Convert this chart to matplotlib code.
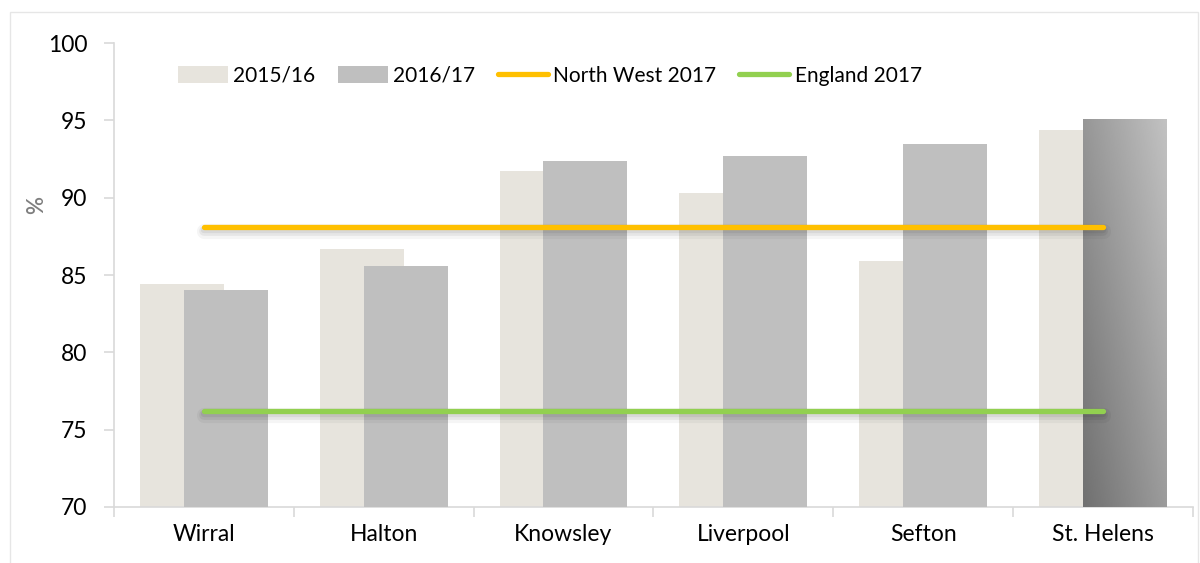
import numpy as np
import matplotlib
matplotlib.use("Agg")
import matplotlib.pyplot as plt
import matplotlib.patheffects as pe
from matplotlib.patches import Rectangle

areas = ["Wirral", "Halton", "Knowsley", "Liverpool", "Sefton", "St. Helens"]
y2015 = [84.4, 86.7, 91.7, 90.3, 85.9, 94.4]
y2016 = [84.0, 85.6, 92.4, 92.7, 93.5, 95.1]
north_west = 88.1
england = 76.2

plt.rcParams["font.family"] = ["Lato", "DejaVu Sans"]

fig = plt.figure(figsize=(12, 5.63), dpi=100)
ax = fig.add_axes([0.095, 0.0995, 0.899, 0.824])

# outer chart border
fig.patches.append(Rectangle((10 / 1200, -0.01), 1188 / 1200, (563 - 12) / 563 + 0.01,
                             transform=fig.transFigure, fill=False,
                             edgecolor="#e6e6e6", linewidth=1))

x = np.arange(len(areas))
w = 0.467
off = 0.122
b1 = ax.bar(x - off, [v - 70 for v in y2015], w, bottom=70, color="#e7e4dd",
            label="2015/16", zorder=2)
b2 = ax.bar(x + off, [v - 70 for v in y2016], w, bottom=70, color="#bfbfbf",
            label="2016/17", zorder=3)

# gradient fill on the last 2016/17 bar
last = b2[-1]
last.set_facecolor("none")
bx, by = last.get_x(), last.get_y()
bw, bh = last.get_width(), last.get_height()
u = np.linspace(0, 1, 100)
v = np.linspace(0, 1, 200)
U, V = np.meshgrid(u, v)
grad = 0.44 + 0.17 * U + 0.15 * V
im = ax.imshow(grad, cmap="gray", vmin=0, vmax=1, origin="lower", aspect="auto",
               extent=[bx, bx + bw, by, by + bh], zorder=3)
im.set_clip_path(last)

# soft drop shadow under the reference lines
shadow = [pe.Stroke(linewidth=11, foreground="black", alpha=0.04, offset=(0, -3)),
          pe.Stroke(linewidth=7, foreground="black", alpha=0.06, offset=(0, -3)),
          pe.Stroke(linewidth=4.5, foreground="black", alpha=0.06, offset=(0, -2)),
          pe.Normal()]
l1, = ax.plot([x[0], x[-1]], [north_west, north_west], color="#ffc000", lw=3.8,
              solid_capstyle="round", label="North West 2017", zorder=4, path_effects=shadow)
l2, = ax.plot([x[0], x[-1]], [england, england], color="#92d050", lw=3.8,
              solid_capstyle="round", label="England 2017", zorder=4, path_effects=shadow)

ax.set_xlim(-0.5, len(areas) - 0.5)
ax.set_ylim(70, 100)
ax.set_yticks(range(70, 101, 5))
ax.set_xticks(x)
ax.set_xticklabels(areas)
ax.set_xticks(np.arange(-0.5, len(areas)), minor=True)
ax.tick_params(axis="x", which="major", length=0, pad=12, labelsize=16.5, colors="black")
ax.tick_params(axis="x", which="minor", length=7, color="#d9d9d9", width=1.2)
ax.tick_params(axis="y", length=7, color="#d9d9d9", width=1.2, labelsize=16.5, pad=12)

for s in ["top", "right"]:
    ax.spines[s].set_visible(False)
for s in ["left", "bottom"]:
    ax.spines[s].set_color("#d9d9d9")
    ax.spines[s].set_linewidth(1.2)

ax.set_ylabel("%", fontsize=16, color="#7f7f7f", fontweight="semibold")
ax.yaxis.set_label_coords(-0.062, 0.65)

lp = ax.legend([b1, b2, l1, l2], ["2015/16", "2016/17", "North West 2017", "England 2017"],
               loc="center left", bbox_to_anchor=(0.059, 0.93), ncol=4, frameon=False,
               borderaxespad=0, borderpad=0,
               fontsize=15, handlelength=2.4, handleheight=0.9, handletextpad=0.25,
               columnspacing=1.1)
for h in lp.legend_handles[2:]:
    h.set_path_effects([pe.Normal()])

fig.savefig("out.png", dpi=100)
